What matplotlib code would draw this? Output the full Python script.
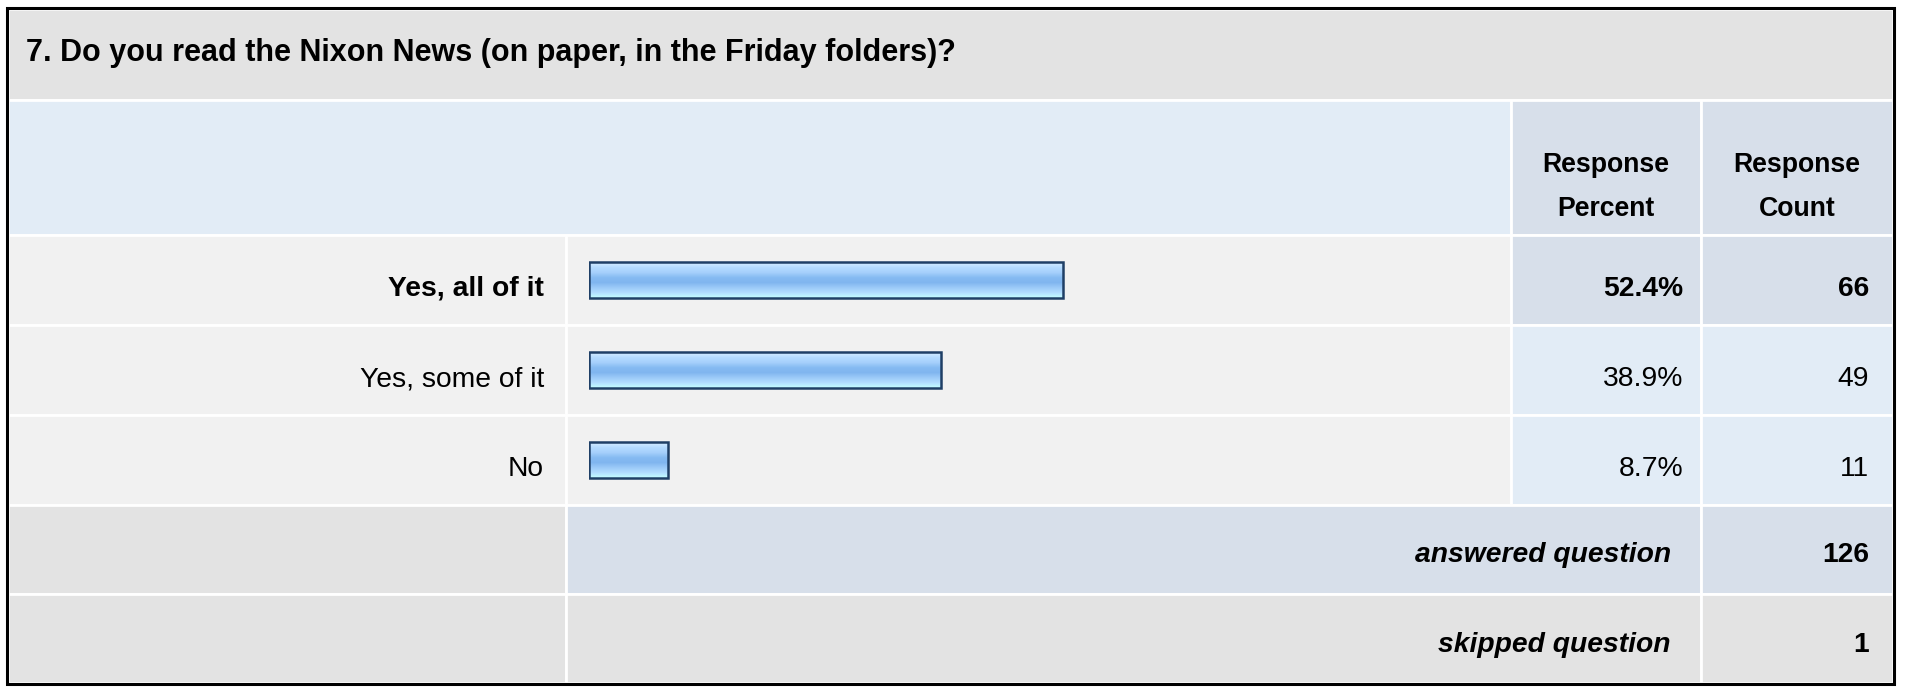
import numpy as np
import matplotlib
matplotlib.use('Agg')
import matplotlib.pyplot as plt
from matplotlib.patches import Rectangle
from matplotlib.colors import LinearSegmentedColormap

plt.rcParams['font.family'] = ['Liberation Sans', 'DejaVu Sans']

question = '7. Do you read the Nixon News (on paper, in the Friday folders)?'
answers = ['Yes, all of it', 'Yes, some of it', 'No']
percents = [52.4, 38.9, 8.7]
counts = [66, 49, 11]
answered = 126
skipped = 1

GREY = '#e3e3e3'
ROW = '#f1f1f1'
LIGHTBLUE = '#e2ecf6'
BLUEGREY = '#d7dfea'
FS = 20.3

fig = plt.figure(figsize=(19.07, 6.87), dpi=100)
ax = fig.add_axes([0, 0, 1, 1])
ax.set_xlim(0, 1907)
ax.set_ylim(687, 0)
ax.axis('off')

# table grid (pixel layout)
cols = [8, 566, 1511, 1701, 1893]
rows = [9, 100, 235, 325, 415, 505, 594, 683]


def cell(x0, x1, y0, y1, color):
    ax.add_patch(Rectangle((x0, y0), x1 - x0, y1 - y0, facecolor=color,
                           edgecolor='white', linewidth=2))


cell(cols[0], cols[4], rows[0], rows[1], GREY)
cell(cols[0], cols[2], rows[1], rows[2], LIGHTBLUE)
cell(cols[2], cols[3], rows[1], rows[2], BLUEGREY)
cell(cols[3], cols[4], rows[1], rows[2], BLUEGREY)
top = int(np.argmax(counts))
for i in range(len(answers)):
    y0, y1 = rows[2 + i], rows[3 + i]
    cell(cols[0], cols[1], y0, y1, ROW)
    cell(cols[1], cols[2], y0, y1, ROW)
    c = BLUEGREY if i == top else LIGHTBLUE
    cell(cols[2], cols[3], y0, y1, c)
    cell(cols[3], cols[4], y0, y1, c)
cell(cols[0], cols[1], rows[5], rows[6], GREY)
cell(cols[1], cols[3], rows[5], rows[6], BLUEGREY)
cell(cols[3], cols[4], rows[5], rows[6], BLUEGREY)
cell(cols[0], cols[1], rows[6], rows[7], GREY)
cell(cols[1], cols[3], rows[6], rows[7], GREY)
cell(cols[3], cols[4], rows[6], rows[7], GREY)
ax.add_patch(Rectangle((6.5, 7.5), 1887, 676.5, facecolor='none',
                       edgecolor='black', linewidth=2.2))

ax.text(26, 53, question, fontsize=22, fontweight='bold', va='center', ha='left')
for j, lab in enumerate(['Response\nPercent', 'Response\nCount']):
    ax.text((cols[2 + j] + cols[3 + j]) / 2, 187, lab, fontsize=19.2, fontweight='bold',
            ha='center', va='center', linespacing=1.85)

dy = 9
for i, a in enumerate(answers):
    yc = (rows[2 + i] + rows[3 + i]) / 2 + dy
    w = 'bold' if i == top else 'normal'
    ax.text(544, yc, a, fontsize=FS, fontweight=w, ha='right', va='center')
    ax.text(1683, yc, '%.1f%%' % percents[i], fontsize=FS, fontweight=w, ha='right', va='center')
    ax.text(1869, yc, str(counts[i]), fontsize=FS, fontweight=w, ha='right', va='center')

yc = (rows[5] + rows[6]) / 2 + 5
ax.text(1671, yc, 'answered question', fontsize=FS, fontweight='bold', style='italic',
        ha='right', va='center')
ax.text(1869, yc, str(answered), fontsize=FS, fontweight='bold', ha='right', va='center')
yc = (rows[6] + rows[7]) / 2 + 6
ax.text(1671, yc, 'skipped question', fontsize=FS, fontweight='bold', style='italic',
        ha='right', va='center')
ax.text(1869, yc, str(skipped), fontsize=FS, fontweight='bold', ha='right', va='center')

# bars
bx = fig.add_axes([589 / 1907, (687 - 505) / 687, 905 / 1907, 270 / 687])
bx.axis('off')
bars = bx.barh(range(len(answers)), percents, height=0.39, facecolor='none',
               edgecolor='#1f3f66', linewidth=1.8, zorder=3)
grad = LinearSegmentedColormap.from_list('g', ['#d8edff', '#b4dbff', '#a6d0fc', '#86bbf2',
                                              '#80b5ef', '#9ccaf8', '#b2ddff', '#c4ffff'])
g = np.linspace(0, 1, 64).reshape(-1, 1)
for b in bars:
    bx.imshow(g, cmap=grad, aspect='auto', origin='upper', zorder=2,
              extent=(b.get_x(), b.get_x() + b.get_width(),
                      b.get_y() + b.get_height(), b.get_y()))
bx.set_xlim(0, 100)
bx.set_ylim(len(answers) - 0.5, -0.5)

plt.savefig('out.png', dpi=100)
